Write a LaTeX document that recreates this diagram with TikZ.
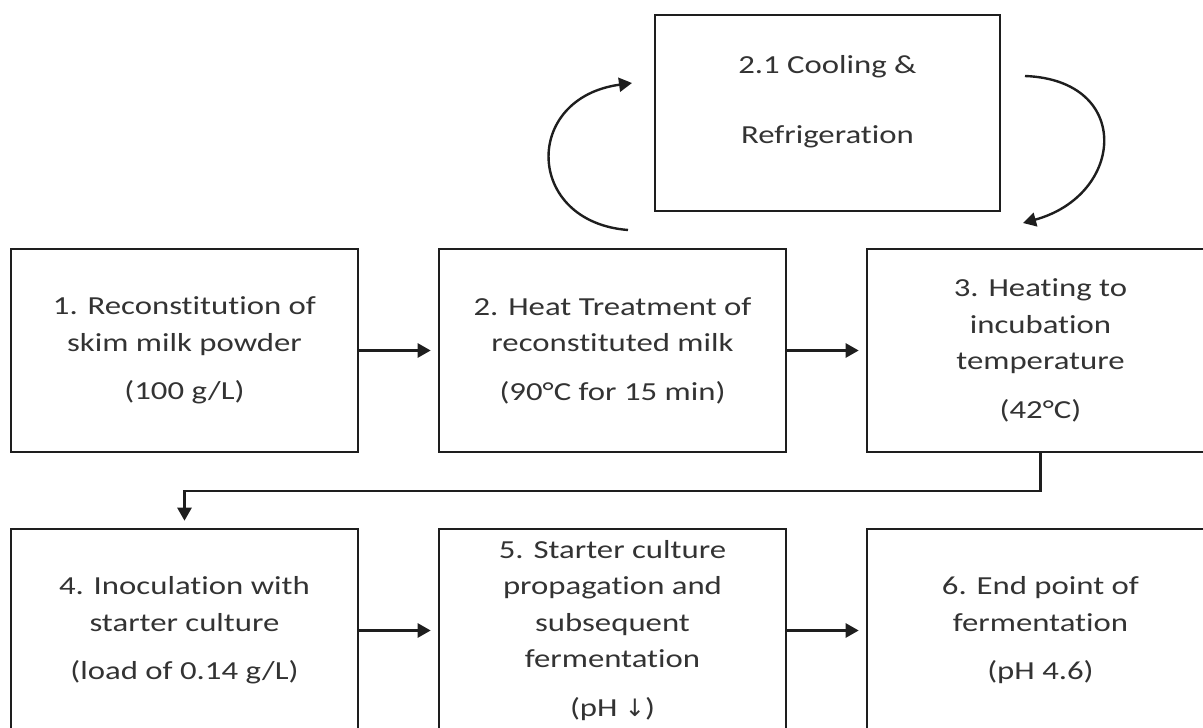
\documentclass[tikz,border=0pt]{standalone}
\usepackage{fontspec}
\setmainfont{Carlito}[FakeStretch=1.26,Ligatures=NoCommon]
\newfontfamily\symfont{DejaVu Sans}
\usetikzlibrary{arrows.meta}
\definecolor{ln}{HTML}{1E1E1E}
\definecolor{tx}{HTML}{333333}
\begin{document}
\begin{tikzpicture}[x=1pt,y=-1pt,
  txt/.style={text=tx, align=center, font=\fontsize{26}{36.5}\selectfont, inner sep=0pt},
  box/.style={txt, draw=ln, line width=2.6pt, minimum width=347pt, minimum height=203pt},
  arr/.style={draw=ln, line width=2.6pt, -{Triangle[length=13pt,width=14pt]}},
  curv/.style={draw=ln, line width=2.4pt, -{Triangle[length=13pt,width=14pt]}}]
\path[use as bounding box] (0,0) rectangle (1203,728);
\clip (0,0) rectangle (1203,728);
% top box
\node[box, minimum width=345pt, minimum height=196pt] (c21) at (827.5,113) {};
\node[txt] (c21t) at (827.5,102) {2.1 Cooling \&\\[33.5pt]Refrigeration};
% row 1
\node[box] (b1) at (184.5,350.5) {1. Reconstitution of\\skim milk powder\\[12pt](100 g/L)};
\node[box] (b2) at (612.5,350.5) {2. Heat Treatment of\\reconstituted milk\\[12pt](90°C for 15 min)};
\node[box] (b3) at (1040.5,350.5) {3. Heating to\\incubation\\temperature\\[12pt](42°C)};
% row 2
\node[box] (b4) at (184.5,630.5) {4. Inoculation with\\starter culture\\[12pt](load of 0.14 g/L)};
\node[box] (b5) at (612.5,630.5) {5. Starter culture\\propagation and\\subsequent\\fermentation\\[12pt](pH {\symfont\fontsize{24}{26}\selectfont ↓})};
\node[box] (b6) at (1040.5,630.5) {6. End point of\\fermentation\\[12pt](pH 4.6)};
% straight connectors
\draw[arr, shorten >=7pt] (b1) -- (b2);
\draw[arr, shorten >=7pt] (b2) -- (b3);
\draw[arr, shorten >=7pt] (b4) -- (b5);
\draw[arr, shorten >=7pt] (b5) -- (b6);
\draw[arr, shorten >=7pt] (b3.south) -- (b3.south |- 0,491) -| (b4.north);
% curved connectors
\coordinate (l0) at (628,230);
\coordinate (l1) at (632,83);
\draw[curv] (l0) .. controls (525,222) and (522,98) .. (l1);
\coordinate (r0) at (1025,76);
\coordinate (r1) at (1023,223);
\draw[curv] (r0) .. controls (1133,80) and (1125,195) .. (r1);
\end{tikzpicture}
\end{document}
